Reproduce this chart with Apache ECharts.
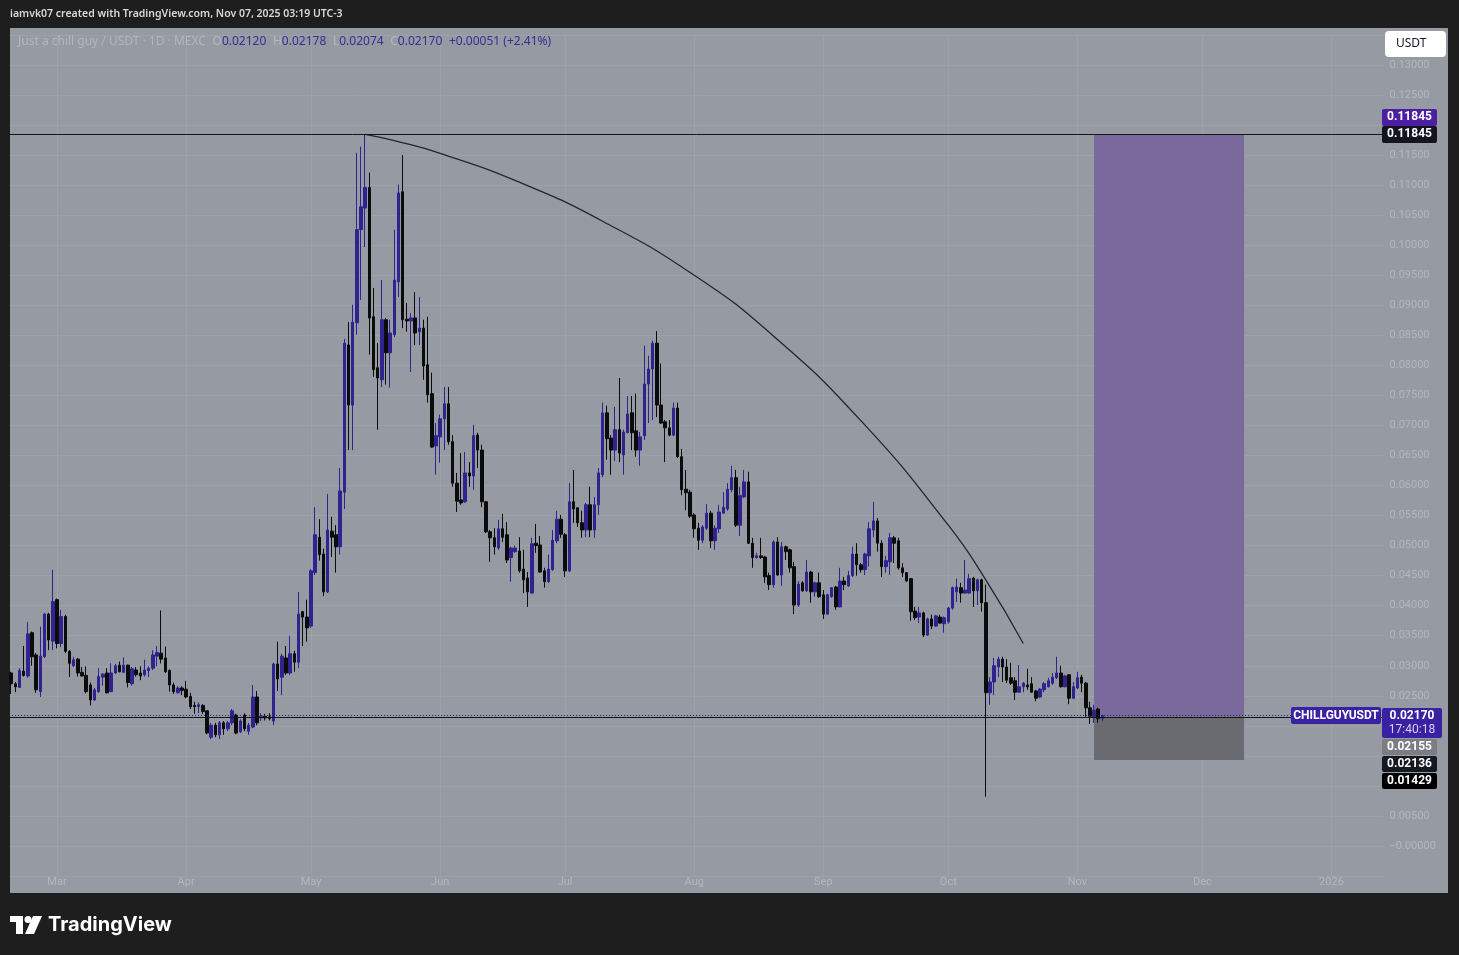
<!DOCTYPE html>
<html><head><meta charset="utf-8">
<script src="https://cdn.jsdelivr.net/npm/echarts@6/dist/echarts.min.js"></script>
<style>html,body{margin:0;padding:0;background:#1e1e1e;}#c{width:1459px;height:955px;}</style>
</head><body><div id="c"></div>
<script>
// ---------- data ----------
const START_DATE = [2025, 1, 18];   // 2025-02-18 (first candle)
const TOTAL_DAYS = 330;             // visible date range through mid Jan 2026
const monthNames = ['Jan','Feb','Mar','Apr','May','Jun','Jul','Aug','Sep','Oct','Nov','Dec'];
const yTickStep = 0.005;

const opens = [
.0288,.0270,.0264,.0291,.0283,.0355,.0318,.0257,.0315,.0386,
.0341,.0410,.0337,.0382,.0324,.0300,.0311,.0289,.0284,.0268,
.0243,.0257,.0281,.0288,.0257,.0288,.0301,.0289,.0301,.0270,
.0293,.0288,.0285,.0292,.0296,.0316,.0321,.0313,.0292,.0268,
.0255,.0263,.0261,.0249,.0234,.0232,.0234,.0225,.0181,.0201,
.0185,.0205,.0195,.0205,.0218,.0190,.0218,.0191,.0198,.0248,
.0213,.0216,.0215,.0208,.0303,.0281,.0313,.0288,.0320,.0306,
.0390,.0381,.0366,.0455,.0514,.0486,.0423,.0524,.0518,.0498,
.0589,.0834,.0734,.0871,.1026,.1062,.1096,.0881,.0796,.0776,
.0876,.0821,.0851,.0939,.1089,.0877,.0874,.0879,.0856,.0862,
.0801,.0753,.0666,.0681,.0711,.0736,.0673,.0604,.0576,.0573,
.0621,.0616,.0684,.0659,.0573,.0523,.0513,.0496,.0528,.0518,
.0480,.0490,.0491,.0461,.0446,.0421,.0504,.0501,.0458,.0440,
.0460,.0508,.0544,.0518,.0458,.0573,.0563,.0538,.0526,.0568,
.0526,.0568,.0618,.0721,.0679,.0659,.0693,.0651,.0688,.0721,
.0691,.0659,.0683,.0769,.0794,.0837,.0734,.0706,.0696,.0684,
.0729,.0648,.0594,.0589,.0551,.0529,.0509,.0529,.0554,.0508,
.0528,.0554,.0561,.0593,.0613,.0534,.0581,.0606,.0504,.0480,
.0483,.0481,.0450,.0435,.0506,.0451,.0498,.0493,.0465,.0401,
.0438,.0425,.0456,.0423,.0438,.0418,.0386,.0415,.0431,.0398,
.0441,.0433,.0450,.0486,.0468,.0460,.0483,.0526,.0541,.0504,
.0465,.0473,.0513,.0508,.0463,.0455,.0445,.0391,.0381,.0388,
.0351,.0378,.0366,.0381,.0370,.0373,.0396,.0423,.0430,.0421,
.0421,.0446,.0425,.0443,.0405,.0255,.0273,.0298,.0311,.0298,
.0280,.0275,.0256,.0265,.0268,.0270,.0258,.0248,.0260,.0265,
.0271,.0280,.0288,.0265,.0285,.0246,.0263,.0281,.0271,.0230,
.0215,.0228,.0212];
const closes = [
.0270,.0265,.0292,.0284,.0353,.0315,.0260,.0316,.0386,.0343,
.0407,.0337,.0382,.0324,.0304,.0310,.0288,.0283,.0257,.0243,
.0260,.0282,.0286,.0255,.0288,.0300,.0290,.0301,.0272,.0295,
.0285,.0283,.0293,.0296,.0318,.0322,.0311,.0290,.0268,.0257,
.0263,.0259,.0248,.0232,.0232,.0235,.0224,.0188,.0201,.0185,
.0205,.0195,.0205,.0225,.0188,.0208,.0195,.0201,.0248,.0205,
.0216,.0213,.0212,.0303,.0278,.0316,.0288,.0320,.0306,.0386,
.0381,.0363,.0458,.0518,.0485,.0423,.0526,.0514,.0498,.0591,
.0837,.0734,.0872,.1026,.1064,.1096,.0879,.0793,.0779,.0876,
.0821,.0854,.0942,.1087,.0876,.0874,.0879,.0854,.0862,.0799,
.0751,.0664,.0683,.0711,.0736,.0673,.0604,.0574,.0571,.0621,
.0616,.0683,.0659,.0573,.0523,.0513,.0498,.0528,.0514,.0476,
.0496,.0496,.0458,.0443,.0423,.0503,.0500,.0456,.0440,.0461,
.0509,.0544,.0519,.0458,.0573,.0561,.0538,.0526,.0568,.0526,
.0568,.0621,.0721,.0678,.0659,.0693,.0654,.0689,.0719,.0688,
.0659,.0681,.0769,.0794,.0837,.0734,.0704,.0696,.0684,.0729,
.0648,.0593,.0588,.0549,.0528,.0509,.0531,.0554,.0508,.0529,
.0556,.0564,.0594,.0613,.0534,.0583,.0606,.0504,.0480,.0483,
.0480,.0448,.0435,.0506,.0451,.0498,.0490,.0463,.0401,.0436,
.0425,.0456,.0423,.0438,.0415,.0386,.0418,.0430,.0398,.0441,
.0435,.0450,.0486,.0468,.0460,.0486,.0528,.0541,.0504,.0465,
.0475,.0513,.0504,.0463,.0455,.0441,.0390,.0380,.0388,.0351,
.0378,.0366,.0383,.0371,.0380,.0396,.0430,.0431,.0421,.0426,
.0445,.0425,.0443,.0405,.0255,.0273,.0300,.0311,.0298,.0276,
.0271,.0256,.0265,.0271,.0265,.0256,.0246,.0261,.0270,.0275,
.0281,.0288,.0265,.0283,.0246,.0265,.0280,.0271,.0230,.0216,
.0226,.02119,.0217];
const lows = [
.0253,.0256,.0263,.0282,.0280,.0300,.0255,.0248,.0313,.0326,
.0326,.0329,.0331,.0321,.0281,.0298,.0282,.0282,.0254,.0234,
.0242,.0255,.0267,.0254,.0256,.0286,.0289,.0288,.0264,.0267,
.0282,.0276,.0282,.0281,.0293,.0299,.0304,.0288,.0257,.0253,
.0254,.0251,.0246,.0228,.0220,.0221,.0220,.0186,.0178,.0181,
.0178,.0185,.0191,.0201,.0186,.0188,.0191,.0185,.0196,.0201,
.0208,.0209,.0209,.0201,.0258,.0251,.0285,.0285,.0290,.0296,
.0333,.0340,.0363,.0451,.0475,.0416,.0421,.0481,.0455,.0485,
.0561,.0659,.0659,.0851,.0909,.0997,.0818,.0781,.0693,.0764,
.0768,.0763,.0847,.0914,.0862,.0856,.0789,.0834,.0834,.0776,
.0738,.0663,.0618,.0638,.0659,.0668,.0598,.0556,.0568,.0571,
.0598,.0593,.0629,.0564,.0521,.0473,.0485,.0493,.0506,.0471,
.0440,.0488,.0455,.0421,.0398,.0420,.0488,.0455,.0430,.0438,
.0458,.0504,.0513,.0448,.0456,.0538,.0531,.0513,.0514,.0514,
.0513,.0551,.0614,.0643,.0618,.0641,.0639,.0618,.0687,.0659,
.0648,.0633,.0676,.0704,.0709,.0714,.0703,.0639,.0682,.0682,
.0646,.0584,.0559,.0546,.0513,.0493,.0504,.0526,.0496,.0493,
.0521,.0553,.0558,.0589,.0531,.0516,.0579,.0503,.0463,.0478,
.0478,.0438,.0426,.0430,.0450,.0433,.0476,.0455,.0386,.0398,
.0423,.0423,.0405,.0415,.0413,.0378,.0385,.0413,.0393,.0397,
.0426,.0431,.0448,.0450,.0455,.0451,.0465,.0514,.0490,.0448,
.0455,.0451,.0471,.0460,.0448,.0440,.0375,.0376,.0371,.0348,
.0350,.0361,.0365,.0370,.0355,.0370,.0393,.0406,.0405,.0420,
.0420,.0398,.0401,.0390,.0082,.0235,.0251,.0281,.0273,.0271,
.0268,.0243,.0255,.0256,.0260,.0255,.0241,.0246,.0256,.0264,
.0268,.0278,.0264,.0264,.0236,.0245,.0261,.0256,.0215,.0203,
.0205,.0205,.02074];
const highs = [
.0290,.0273,.0296,.0333,.0373,.0357,.0321,.0365,.0388,.0388,
.0460,.0412,.0393,.0385,.0326,.0315,.0313,.0298,.0299,.0272,
.0263,.0296,.0288,.0296,.0304,.0303,.0307,.0314,.0302,.0298,
.0298,.0299,.0310,.0299,.0326,.0333,.0392,.0332,.0294,.0272,
.0266,.0266,.0275,.0255,.0240,.0239,.0236,.0226,.0205,.0205,
.0208,.0208,.0208,.0228,.0220,.0211,.0221,.0205,.0268,.0258,
.0221,.0220,.0221,.0305,.0340,.0320,.0333,.0350,.0325,.0423,
.0391,.0410,.0461,.0564,.0544,.0495,.0586,.0548,.0534,.0629,
.0844,.0872,.0901,.1154,.1164,.11845,.1121,.0929,.0837,.0942,
.0879,.0876,.1026,.1101,.1150,.0904,.0887,.0922,.0914,.0876,
.0881,.0788,.0704,.0718,.0764,.0764,.0684,.0621,.0654,.0656,
.0639,.0701,.0688,.0668,.0574,.0526,.0529,.0543,.0553,.0539,
.0498,.0500,.0514,.0493,.0456,.0513,.0536,.0516,.0463,.0485,
.0526,.0558,.0551,.0521,.0604,.0626,.0564,.0558,.0571,.0598,
.0581,.0629,.0738,.0733,.0684,.0731,.0779,.0693,.0749,.0749,
.0753,.0689,.0833,.0816,.0841,.0857,.0803,.0709,.0709,.0738,
.0738,.0661,.0626,.0593,.0554,.0538,.0534,.0569,.0558,.0534,
.0568,.0589,.0604,.0633,.0626,.0598,.0626,.0623,.0513,.0488,
.0513,.0483,.0455,.0509,.0514,.0506,.0500,.0495,.0473,.0441,
.0441,.0476,.0458,.0440,.0455,.0426,.0420,.0431,.0433,.0463,
.0448,.0458,.0498,.0504,.0471,.0488,.0539,.0573,.0546,.0509,
.0483,.0521,.0516,.0513,.0471,.0456,.0446,.0398,.0398,.0390,
.0380,.0385,.0385,.0385,.0382,.0398,.0432,.0445,.0438,.0476,
.0453,.0448,.0445,.0445,.0435,.0281,.0313,.0315,.0315,.0311,
.0305,.0281,.0301,.0273,.0295,.0281,.0260,.0263,.0273,.0280,
.0288,.0315,.0300,.0285,.0286,.0273,.0290,.0285,.0273,.0240,
.0235,.0230,.02178];

// drawn arc (annotation)
const arcDates  = ['2025-05-14','2025-05-21','2025-06-01','2025-06-20','2025-07-10','2025-08-01','2025-08-20','2025-09-10','2025-10-01','2025-10-10','2025-10-19'];
const arcPrices = [0.11845, 0.1174, 0.1153, 0.1105, 0.1040, 0.0950, 0.0849, 0.0708, 0.0534, 0.0443, 0.0337];

// horizontal levels and long-position tool
const topLevel = 0.11845;
const hLine2 = 0.02136;
const posStart = '2025-11-05', posEnd = '2025-12-11';
const posEntry = 0.02155, posTarget = 0.11845, posStop = 0.01429;
const countdown = '17:40:18';

// ---------- build ----------
const categories = [];
(function () {
  const t0 = Date.UTC(START_DATE[0], START_DATE[1], START_DATE[2]);
  for (let i = 0; i < TOTAL_DAYS; i++) categories.push(new Date(t0 + i * 86400000).toISOString().slice(0, 10));
})();
const candleData = opens.map((o, i) => [o, closes[i], lows[i], highs[i]]);
const arcData = arcDates.map((d, i) => [d, arcPrices[i]]);
const lastClose = closes[closes.length - 1];

const UP = '#30238f', DOWN = '#0b0b0b';
const FAINT = '#b4b7be';
const FONT = 'Roboto, "Noto Sans", sans-serif';
const isMonthStart = (idx, v) => v.slice(8) === '01';

const chart = echarts.init(document.getElementById('c'));
const option = {
  backgroundColor: '#1e1e1e',
  animation: false,
  grid: { left: 9.1, right: 75.45, top: 35, bottom: 79 },
  xAxis: {
    type: 'category', data: categories, boundaryGap: true,
    axisLine: { show: false }, axisTick: { show: false },
    axisLabel: {
      interval: isMonthStart, color: FAINT, fontSize: 11, fontFamily: FONT, margin: 1,
      formatter: v => { const m = +v.slice(5, 7); return m === 1 ? v.slice(0, 4) : monthNames[m - 1]; }
    },
    splitLine: { show: true, interval: isMonthStart, alignWithLabel: true, lineStyle: { color: 'rgba(255,255,255,0.07)', width: 1 } }
  },
  yAxis: {
    type: 'value', position: 'right', min: -0.005, max: 0.135, interval: yTickStep, scale: false,
    axisLine: { show: false }, axisTick: { show: false },
    axisLabel: {
      color: FAINT, fontSize: 11, fontFamily: FONT, margin: 6,
      formatter: v => (v < -0.001 || v > 0.1325) ? '' : (Math.abs(v) < 1e-9 ? '\u22120.00000' : v.toFixed(5))
    },
    splitLine: { lineStyle: { color: 'rgba(255,255,255,0.07)', width: 1 } }
  },
  series: [
    {
      type: 'line', data: [], z: 1, silent: true,
      markArea: {
        silent: true,
        data: [
          [{ xAxis: posStart, yAxis: posEntry, itemStyle: { color: '#7a699d' } }, { xAxis: posEnd, yAxis: posTarget }],
          [{ xAxis: posStart, yAxis: posStop, itemStyle: { color: '#6a6b71' } }, { xAxis: posEnd, yAxis: posEntry }]
        ]
      }
    },
    {
      type: 'line', data: [], z: 2, silent: true,
      markLine: {
        silent: true, precision: 6, symbol: ['none', 'none'], label: { show: false }, animation: false,
        data: [
          { yAxis: topLevel, lineStyle: { color: '#151515', width: 1, type: 'solid' } },
          { yAxis: hLine2, lineStyle: { color: '#151515', width: 1, type: 'solid' } },
          { yAxis: lastClose, lineStyle: { color: '#2a1f86', width: 1, type: [1, 2] } }
        ]
      }
    },
    {
      type: 'candlestick', data: candleData, barWidth: 3, z: 3,
      itemStyle: { color: UP, color0: DOWN, borderColor: UP, borderColor0: DOWN, borderWidth: 1 }
    },
    {
      type: 'line', data: arcData, smooth: true, symbol: 'none', z: 4, silent: true,
      lineStyle: { color: '#262626', width: 1.3 }
    }
  ]
};
chart.setOption(option);

// ---------- overlays (text, tags) ----------
const py = v => chart.convertToPixel({ yAxisIndex: 0 }, v);
const n = closes.length - 1;
const f5 = v => v.toFixed(5);
const chg = closes[n] - closes[n - 1];
const pct = chg / closes[n - 1] * 100;

function tag(x, yc, w, h, bg, lines, radius) {
  const els = [{ type: 'rect', shape: { x: x, y: Math.round(yc - h / 2), width: w, height: h, r: radius || 2 }, style: { fill: bg }, z: 50, silent: true }];
  lines.forEach(l => els.push({
    type: 'text', x: x + w / 2, y: yc + (l.dy || 0), z: 51, silent: true,
    style: { text: l.t, fill: l.c || '#ffffff', font: (l.w || 'bold') + ' 12px ' + FONT, align: 'center', verticalAlign: 'middle' }
  }));
  return els;
}

const yTop = py(topLevel), yCur = py(lastClose);
let g = [
  { type: 'rect', shape: { x: 10, y: 28, width: 1438, height: 865 }, style: { fill: '#969aa2' }, z: -10, silent: true },
  { type: 'text', x: 10, y: 14, silent: true, style: { text: 'iamvk07 created with TradingView.com, Nov 07, 2025 03:19 UTC-3', fill: '#d6d8de', font: '600 10.5px "Noto Sans", sans-serif', verticalAlign: 'middle' } },
  { type: 'text', x: 18, y: 41.5, silent: true, z: 20, style: {
      text: '{n|Just a chill guy / USDT \u00b7 1D \u00b7 MEXC}  {k|O}{v|' + f5(opens[n]) + '}  {k|H}{v|' + f5(highs[n]) + '}  {k|L}{v|' + f5(lows[n]) + '}  {k|C}{v|' + f5(closes[n]) + '}  {v|+' + f5(chg) + ' (+' + pct.toFixed(2) + '%)}',
      verticalAlign: 'middle',
      rich: {
        n: { fill: '#b3b6bd', fontSize: 12, fontFamily: '"Noto Sans", sans-serif' },
        k: { fill: '#b3b6bd', fontSize: 12, fontFamily: '"Noto Sans", sans-serif' },
        v: { fill: '#3b2c98', fontSize: 12, fontFamily: '"Noto Sans", sans-serif' }
      } } },
  { type: 'rect', shape: { x: 1385, y: 31, width: 61, height: 26, r: 4 }, style: { fill: '#ffffff' }, z: 50, silent: true },
  { type: 'text', x: 1396, y: 44, z: 51, silent: true, style: { text: 'USDT', fill: '#131722', font: '12px "Noto Sans", sans-serif', verticalAlign: 'middle' } },
  // TradingView logo
  { type: 'rect', shape: { x: 10, y: 916, width: 13, height: 6 }, style: { fill: '#ffffff' }, silent: true },
  { type: 'rect', shape: { x: 16, y: 916, width: 7, height: 18 }, style: { fill: '#ffffff' }, silent: true },
  { type: 'circle', shape: { cx: 28, cy: 919.5, r: 3.5 }, style: { fill: '#ffffff' }, silent: true },
  { type: 'polygon', shape: { points: [[33, 916], [42, 916], [34, 934], [25, 934]] }, style: { fill: '#ffffff' }, silent: true },
  { type: 'text', x: 48, y: 925, silent: true, style: { text: 'TradingView', fill: '#ffffff', font: 'bold 20px Inter, "Noto Sans", sans-serif', verticalAlign: 'middle' } }
];
g = g.concat(
  tag(1382, yTop - 17, 55, 17, '#4c1ea3', [{ t: f5(posTarget) }]),
  tag(1382, yTop, 55, 17, '#121520', [{ t: f5(topLevel) }]),
  tag(1291, yCur, 90, 17, '#3a21a2', [{ t: 'CHILLGUYUSDT' }]),
  tag(1382, yCur + 7, 60, 30, '#3a21a2', [{ t: f5(lastClose), dy: -7 }, { t: countdown, dy: 7, c: '#d8d2f2', w: 'normal' }]),
  tag(1382, yCur + 31, 55, 16, '#7b7d84', [{ t: f5(posEntry) }]),
  tag(1382, yCur + 48, 55, 16, '#141821', [{ t: f5(hLine2) }]),
  tag(1382, yCur + 65, 55, 16, '#000000', [{ t: f5(posStop) }])
);
chart.setOption({ graphic: g });
</script></body></html>
